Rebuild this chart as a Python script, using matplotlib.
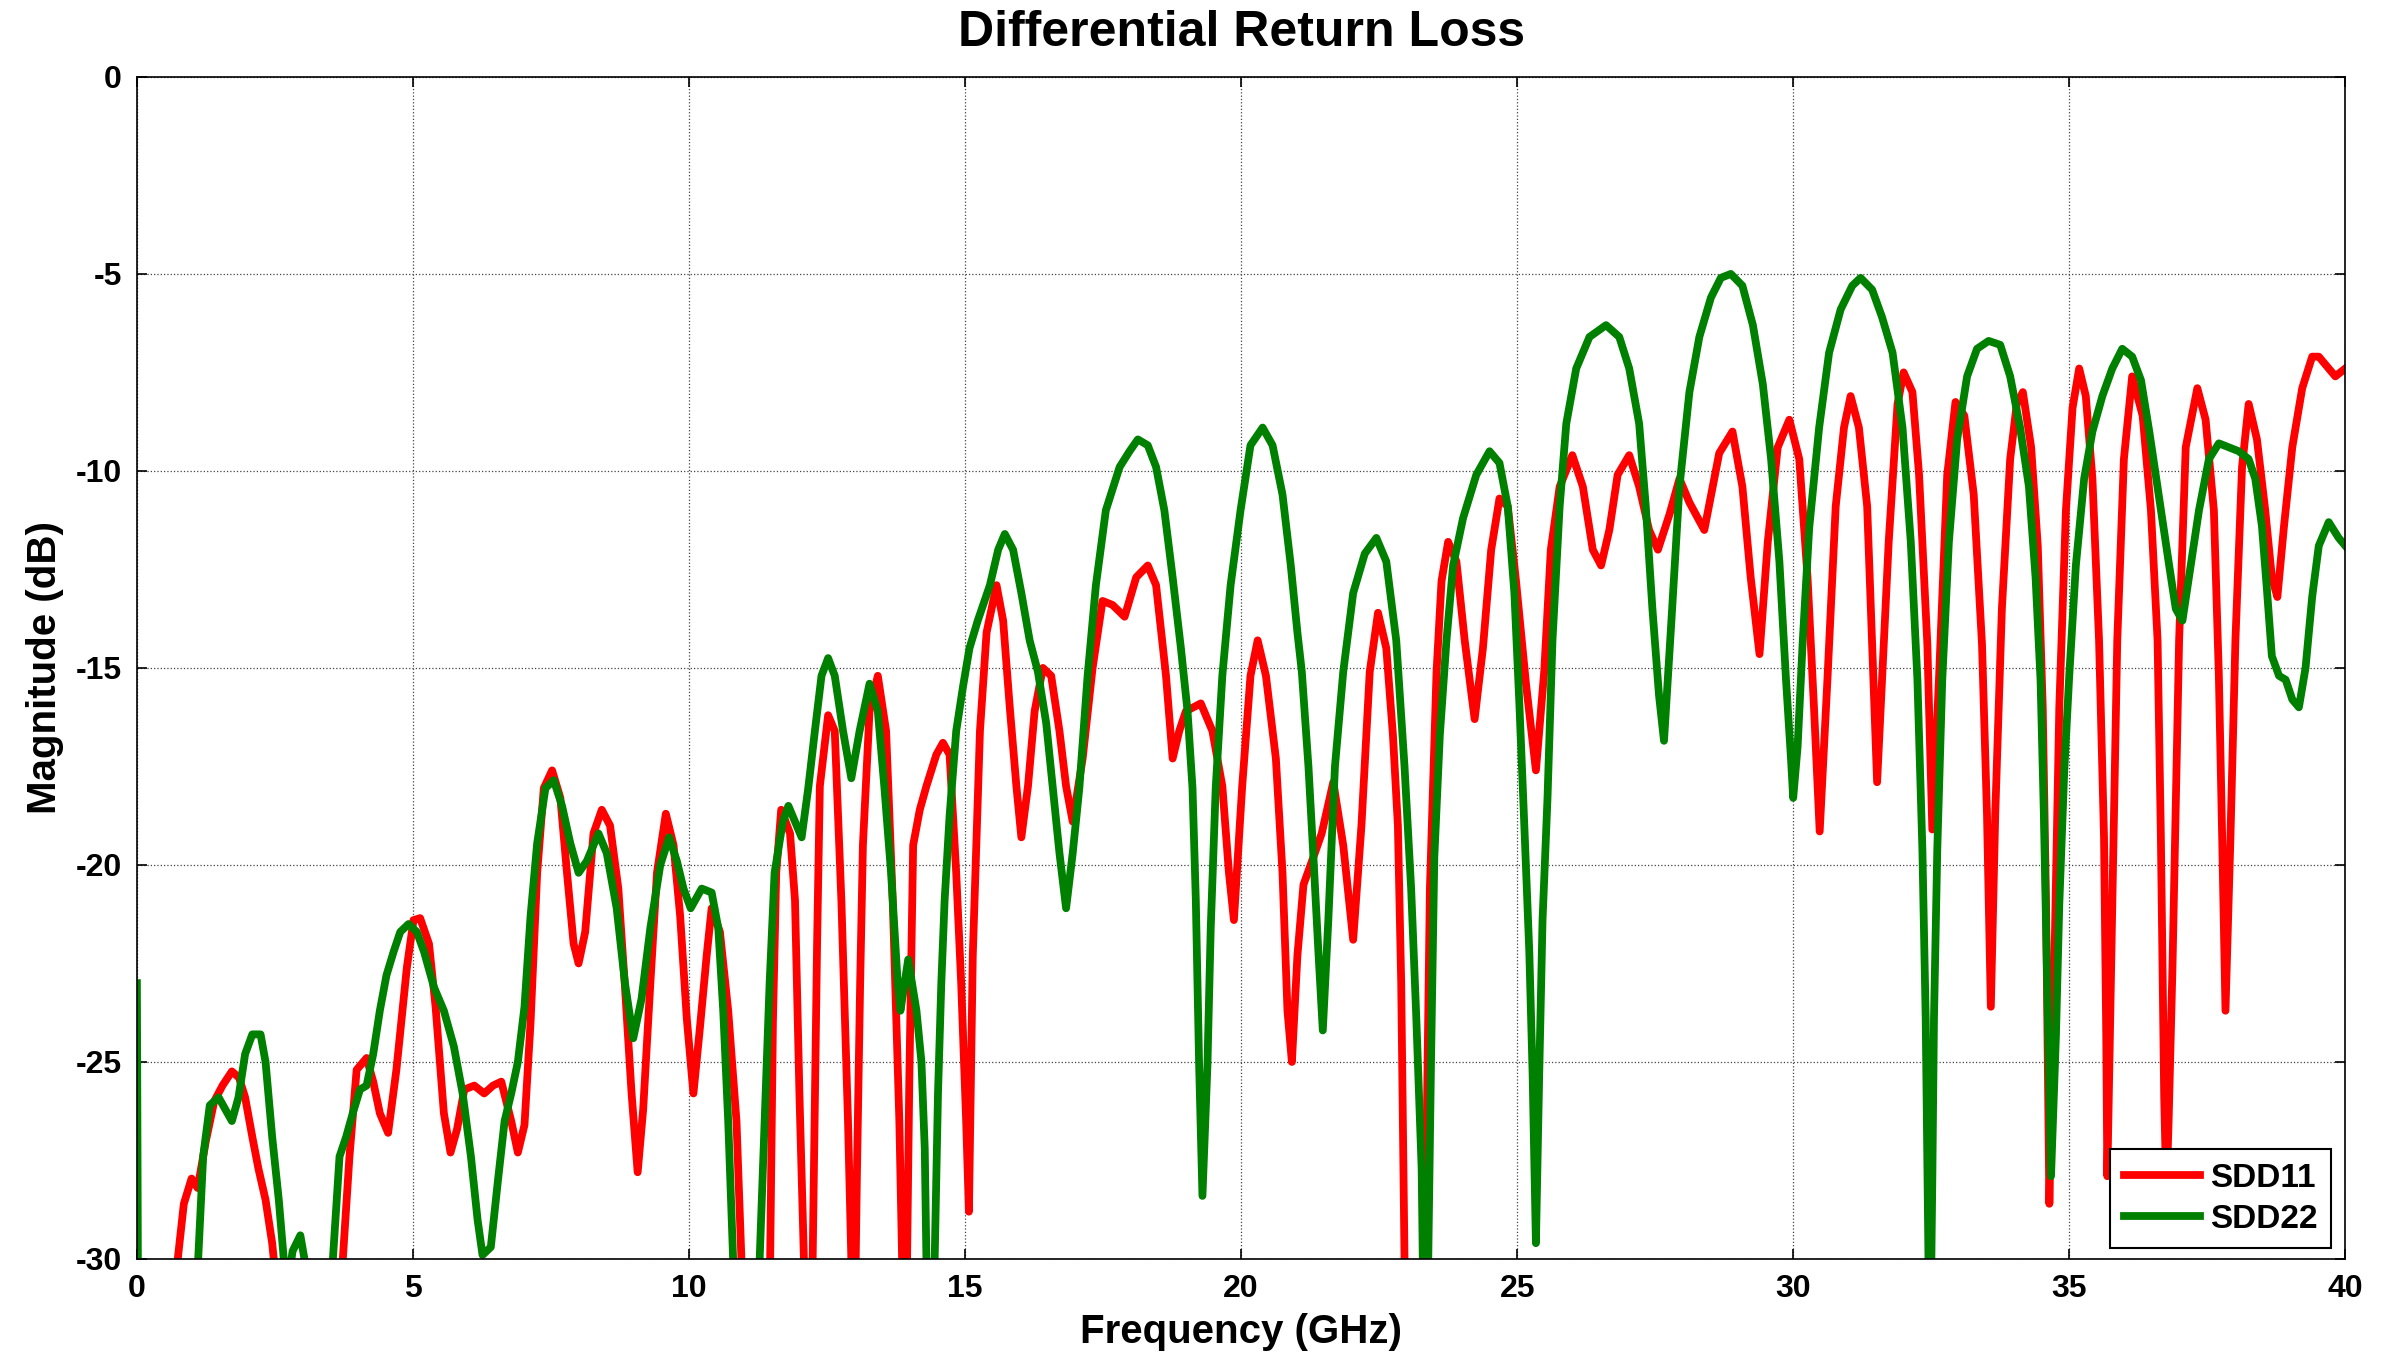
import matplotlib
matplotlib.use("Agg")
import matplotlib.pyplot as plt

plt.rcParams['font.family'] = ['Liberation Sans', 'DejaVu Sans']
plt.rcParams['font.weight'] = 'bold'
plt.rcParams['axes.unicode_minus'] = False

# SDD11 (red), frequency in GHz / magnitude in dB
sdd11_freq = [0.0, 0.7, 0.74, 0.85, 0.99, 1.1, 1.25, 1.4, 1.55, 1.72, 1.85, 1.96, 2.09, 2.2, 2.33, 2.45, 2.55,
              3.65, 3.73, 3.85, 3.98, 4.16, 4.28, 4.4, 4.55, 4.7, 4.89, 5.01, 5.13, 5.29, 5.41, 5.56, 5.68, 5.8,
              5.93, 6.11, 6.29, 6.45, 6.6, 6.78, 6.9, 7.02, 7.13, 7.25, 7.37, 7.52, 7.67, 7.79, 7.91, 8.0, 8.12,
              8.27, 8.42, 8.57, 8.72, 8.84, 8.96, 9.07, 9.17, 9.3, 9.42, 9.58, 9.72, 9.84, 9.96, 10.08, 10.2,
              10.32, 10.41, 10.56, 10.71, 10.86, 10.95, 11.0, 11.45, 11.47, 11.52, 11.58, 11.67, 11.83, 11.92,
              12.0, 12.08, 12.12, 12.22, 12.26, 12.32, 12.37, 12.52, 12.64, 12.76, 12.88, 12.94, 12.97, 13.0,
              13.04, 13.1, 13.15, 13.27, 13.42, 13.57, 13.69, 13.81, 13.86, 13.9, 13.95, 13.99, 14.06, 14.18,
              14.3, 14.48, 14.6, 14.72, 14.84, 14.93, 15.02, 15.07, 15.14, 15.27, 15.39, 15.57, 15.69, 15.81,
              15.93, 16.02, 16.14, 16.26, 16.41, 16.56, 16.71, 16.83, 16.95, 17.13, 17.31, 17.49, 17.67, 17.89,
              18.1, 18.31, 18.46, 18.64, 18.76, 18.88, 19.0, 19.27, 19.48, 19.66, 19.78, 19.87, 20.02, 20.17,
              20.3, 20.45, 20.63, 20.75, 20.84, 20.92, 21.02, 21.13, 21.31, 21.46, 21.67, 21.85, 22.03, 22.18,
              22.33, 22.48, 22.63, 22.75, 22.84, 22.9, 22.96, 23.0, 23.3, 23.35, 23.42, 23.54, 23.63, 23.75,
              23.9, 24.05, 24.23, 24.38, 24.53, 24.68, 24.83, 24.98, 25.16, 25.34, 25.49, 25.61, 25.77, 26.0,
              26.19, 26.37, 26.52, 26.67, 26.82, 27.03, 27.21, 27.39, 27.55, 27.76, 27.94, 28.12, 28.39, 28.66,
              28.9, 29.08, 29.23, 29.39, 29.54, 29.72, 29.93, 30.11, 30.26, 30.38, 30.48, 30.62, 30.77, 30.92,
              31.04, 31.19, 31.34, 31.43, 31.52, 31.61, 31.73, 31.89, 32.0, 32.16, 32.28, 32.43, 32.52, 32.64,
              32.79, 32.94, 33.1, 33.27, 33.42, 33.51, 33.58, 33.66, 33.78, 33.93, 34.05, 34.16, 34.31, 34.43,
              34.52, 34.58, 34.64, 34.73, 34.82, 34.94, 35.06, 35.18, 35.3, 35.42, 35.54, 35.63, 35.67, 35.69,
              35.78, 35.87, 35.99, 36.14, 36.33, 36.48, 36.6, 36.66, 36.72, 36.76, 36.8, 36.87, 36.99, 37.11,
              37.32, 37.47, 37.62, 37.71, 37.77, 37.83, 37.92, 38.01, 38.13, 38.25, 38.4, 38.55, 38.67, 38.77,
              38.89, 39.04, 39.22, 39.4, 39.52, 39.7, 39.82, 40.0]
sdd11_db = [-40, -32, -30, -28.6, -27.96, -28.2, -27.0, -26.0, -25.6, -25.24, -25.4, -25.9, -26.9, -27.7, -28.5,
            -29.6, -31, -31, -30, -27.4, -25.2, -24.9, -25.5, -26.3, -26.8, -25.2, -22.6, -21.4, -21.35, -22.0,
            -23.6, -26.3, -27.3, -26.7, -25.7, -25.6, -25.8, -25.6, -25.5, -26.5, -27.3, -26.6, -24.0, -20.2,
            -18.05, -17.6, -18.3, -20.2, -22.0, -22.5, -21.7, -19.2, -18.6, -19.0, -20.6, -23.1, -25.8, -27.8,
            -26.2, -23.0, -20.2, -18.7, -19.5, -21.3, -23.9, -25.8, -24.1, -22.3, -21.1, -21.7, -23.7, -26.5,
            -30, -32, -32, -30, -24, -20.2, -18.6, -19.2, -20.9, -25.8, -30, -32, -32, -28, -22, -18, -16.2,
            -16.6, -20.9, -26.5, -30, -32, -32, -28, -23, -19.5, -16.1, -15.2, -16.6, -20.9, -26.5, -30, -32,
            -30, -25.5, -19.5, -18.6, -18.0, -17.2, -16.9, -17.2, -20.2, -23.0, -26.5, -28.8, -22.3, -16.6,
            -14.1, -12.9, -13.8, -16.0, -18.0, -19.3, -18.0, -16.1, -15.0, -15.2, -16.6, -18.0, -18.9, -17.3,
            -15.0, -13.3, -13.4, -13.7, -12.7, -12.4, -12.9, -15.2, -17.3, -16.6, -16.1, -15.9, -16.6, -18.0,
            -20.2, -21.4, -18.0, -15.2, -14.3, -15.2, -17.3, -20.2, -23.7, -25.0, -22.3, -20.5, -19.8, -19.2,
            -17.9, -19.5, -21.9, -19.0, -15.1, -13.6, -14.5, -16.7, -19.0, -23.0, -30, -32, -32, -28, -20.6,
            -15.1, -12.8, -11.8, -12.3, -14.3, -16.3, -14.5, -12.0, -10.7, -10.9, -12.8, -15.4, -17.6, -15.1,
            -12.0, -10.4, -9.6, -10.4, -12.0, -12.4, -11.5, -10.1, -9.6, -10.4, -11.5, -12.0, -11.1, -10.2,
            -10.8, -11.5, -9.55, -9.0, -10.4, -12.7, -14.65, -11.8, -9.4, -8.7, -9.7, -12.7, -16.1, -19.15,
            -15.3, -10.9, -8.9, -8.1, -8.9, -10.9, -14.4, -17.9, -15.3, -11.8, -8.3, -7.5, -8.0, -10.1, -14.4,
            -19.1, -15.3, -10.1, -8.25, -8.6, -10.6, -14.4, -18.7, -23.6, -18.7, -13.5, -9.7, -8.3, -8.0, -9.4,
            -11.9, -16.0, -21.0, -28.6, -22.6, -16.0, -11.0, -8.4, -7.4, -8.1, -10.2, -14.3, -19.3, -24.3,
            -27.9, -21.0, -14.3, -9.7, -7.6, -8.6, -11.0, -14.3, -19.3, -25.9, -28.4, -26.5, -22.6, -14.3, -9.4,
            -7.9, -8.7, -11.0, -15.2, -19.3, -23.7, -19.3, -14.3, -9.9, -8.3, -9.2, -11.0, -12.7, -13.2, -11.4,
            -9.4, -7.9, -7.1, -7.1, -7.4, -7.6, -7.4]

# SDD22 (green)
sdd22_freq = [0.0, 0.03, 1.05, 1.11, 1.2, 1.32, 1.48, 1.6, 1.72, 1.84, 1.96, 2.09, 2.24, 2.33, 2.45, 2.57, 2.66,
              2.72, 2.82, 2.96, 3.06, 3.12, 3.5, 3.55, 3.67, 3.79, 3.91, 4.04, 4.16, 4.28, 4.4, 4.52, 4.65,
              4.77, 4.92, 5.07, 5.2, 5.38, 5.56, 5.74, 5.9, 6.05, 6.17, 6.26, 6.41, 6.54, 6.66, 6.78, 6.9, 7.02,
              7.13, 7.25, 7.4, 7.55, 7.7, 7.85, 8.0, 8.15, 8.36, 8.51, 8.69, 8.84, 8.99, 9.14, 9.3, 9.48, 9.64,
              9.78, 9.9, 10.03, 10.23, 10.41, 10.53, 10.62, 10.71, 10.8, 10.85, 11.22, 11.28, 11.37, 11.46,
              11.55, 11.7, 11.8, 11.92, 12.04, 12.16, 12.28, 12.4, 12.52, 12.64, 12.79, 12.94, 13.09, 13.27,
              13.42, 13.54, 13.66, 13.78, 13.83, 13.97, 14.12, 14.21, 14.27, 14.3, 14.33, 14.42, 14.45, 14.51,
              14.57, 14.63, 14.72, 14.84, 14.96, 15.08, 15.23, 15.45, 15.6, 15.72, 15.87, 16.02, 16.17, 16.32,
              16.47, 16.59, 16.71, 16.83, 16.95, 17.07, 17.22, 17.37, 17.55, 17.8, 17.98, 18.13, 18.31, 18.46,
              18.61, 18.76, 18.91, 19.03, 19.12, 19.18, 19.24, 19.3, 19.39, 19.45, 19.54, 19.66, 19.81, 19.99,
              20.17, 20.39, 20.57, 20.75, 20.9, 21.02, 21.1, 21.22, 21.31, 21.4, 21.48, 21.58, 21.7, 21.85,
              22.03, 22.24, 22.45, 22.63, 22.81, 22.96, 23.08, 23.17, 23.27, 23.3, 23.38, 23.44, 23.5, 23.6,
              23.72, 23.84, 24.02, 24.26, 24.5, 24.68, 24.83, 24.95, 25.04, 25.13, 25.22, 25.28, 25.34, 25.4,
              25.46, 25.55, 25.64, 25.77, 25.89, 26.07, 26.31, 26.61, 26.85, 27.03, 27.21, 27.33, 27.45, 27.57,
              27.66, 27.79, 27.94, 28.12, 28.3, 28.51, 28.69, 28.87, 29.08, 29.27, 29.45, 29.6, 29.75, 29.87,
              29.96, 30.0, 30.08, 30.17, 30.29, 30.47, 30.65, 30.86, 31.07, 31.22, 31.43, 31.61, 31.8, 31.98,
              32.13, 32.25, 32.34, 32.4, 32.45, 32.49, 32.52, 32.55, 32.61, 32.7, 32.82, 32.97, 33.15, 33.33,
              33.54, 33.75, 33.93, 34.11, 34.27, 34.39, 34.48, 34.54, 34.6, 34.67, 34.76, 34.82, 34.91, 35.0,
              35.12, 35.27, 35.42, 35.6, 35.78, 35.96, 36.14, 36.3, 36.45, 36.63, 36.81, 36.93, 37.05, 37.2,
              37.35, 37.53, 37.71, 37.89, 38.07, 38.25, 38.37, 38.49, 38.58, 38.67, 38.8, 38.92, 39.04, 39.16,
              39.28, 39.4, 39.52, 39.7, 39.88, 40.0]
sdd22_db = [-23.0, -35, -35, -30, -27.4, -26.1, -25.9, -26.2, -26.5, -25.9, -24.8, -24.3, -24.3, -25.0, -26.9,
            -28.5, -30, -30.8, -29.8, -29.4, -30.2, -32, -32, -30, -27.4, -26.9, -26.3, -25.7, -25.6, -24.8,
            -23.7, -22.8, -22.2, -21.7, -21.5, -21.7, -22.2, -23.1, -23.7, -24.6, -25.8, -27.4, -29.0, -29.9,
            -29.7, -28.0, -26.5, -25.8, -25.0, -23.6, -21.3, -19.45, -18.05, -17.85, -18.5, -19.45, -20.2,
            -19.9, -19.2, -19.7, -21.1, -23.0, -24.4, -23.4, -21.6, -20.0, -19.3, -19.9, -20.6, -21.1, -20.6,
            -20.7, -21.6, -23.7, -26.5, -30, -32, -32, -30, -26.5, -23.0, -20.2, -18.9, -18.5, -18.9, -19.3,
            -18.05, -16.6, -15.2, -14.75, -15.2, -16.6, -17.8, -16.6, -15.4, -16.1, -18.05, -20.2, -23.0,
            -23.7, -22.4, -23.7, -25.0, -27.2, -30, -32, -32, -30, -25.8, -23.0, -20.9, -18.75, -16.6, -15.5,
            -14.5, -13.8, -12.9, -12.0, -11.6, -12.0, -13.1, -14.3, -15.1, -16.4, -18.05, -19.7, -21.1, -19.7,
            -18.05, -15.2, -12.9, -11.0, -9.9, -9.5, -9.2, -9.35, -9.9, -11.0, -12.7, -14.5, -16.1, -18.05,
            -20.9, -25.1, -28.4, -25.1, -21.6, -18.05, -15.2, -12.9, -11.0, -9.35, -8.9, -9.35, -10.6, -12.4,
            -14.1, -15.1, -17.5, -19.8, -22.2, -24.2, -21.4, -17.5, -15.1, -13.1, -12.1, -11.7, -12.3, -14.3,
            -17.5, -20.6, -23.75, -27.7, -31, -31, -25, -19.8, -16.7, -14.3, -12.4, -11.2, -10.1, -9.5, -9.8,
            -10.9, -13.1, -15.9, -19.0, -22.2, -25.3, -29.6, -25.3, -21.4, -18.3, -14.3, -10.9, -8.8, -7.4,
            -6.6, -6.3, -6.6, -7.4, -8.8, -10.9, -13.5, -15.7, -16.85, -13.9, -10.4, -8.0, -6.6, -5.6, -5.1,
            -5.0, -5.3, -6.3, -7.8, -9.7, -12.3, -15.3, -17.3, -18.3, -17.0, -14.4, -11.45, -8.9, -7.0, -5.9,
            -5.3, -5.1, -5.4, -6.1, -7.0, -8.9, -11.8, -15.3, -19.6, -23.9, -30, -31.5, -28, -23.9, -19.6,
            -15.3, -11.8, -9.2, -7.6, -6.9, -6.7, -6.8, -7.6, -8.9, -10.4, -12.7, -15.3, -18.7, -23.0, -27.9,
            -24.3, -21.0, -17.6, -15.2, -12.4, -10.2, -9.0, -8.1, -7.4, -6.9, -7.1, -7.7, -9.0, -10.7, -12.4,
            -13.5, -13.8, -12.4, -11.0, -9.7, -9.3, -9.4, -9.5, -9.7, -10.2, -11.4, -13.0, -14.7, -15.2,
            -15.3, -15.8, -16.0, -15.0, -13.2, -11.9, -11.3, -11.7, -11.9]

x_ticks = [0, 5, 10, 15, 20, 25, 30, 35, 40]
y_ticks = [0, -5, -10, -15, -20, -25, -30]


def main():
    fig = plt.figure(figsize=(23.81, 13.54), dpi=100)
    ax = fig.add_axes([0.0575, 0.0702, 0.9275, 0.873])

    ax.plot(sdd11_freq, sdd11_db, color='#ff0000', lw=5.6, label='SDD11')
    ax.plot(sdd22_freq, sdd22_db, color='#008000', lw=5.6, label='SDD22')

    ax.set_xlim(0, 40)
    ax.set_ylim(-30, 0)
    ax.set_xticks(x_ticks)
    ax.set_yticks(y_ticks)
    ax.grid(True, linestyle=':', color='#444444', lw=0.9)
    ax.tick_params(direction='in', length=7, width=1.2, top=True, right=True,
                   labelsize=23, pad=11)
    for s in ax.spines.values():
        s.set_linewidth(1.2)

    ax.set_title("Differential Return Loss", fontsize=36, fontweight='bold', pad=22)
    ax.set_xlabel("Frequency (GHz)", fontsize=29, fontweight='bold', labelpad=6)
    ax.set_ylabel("Magnitude (dB)", fontsize=29, fontweight='bold', labelpad=8)

    leg = ax.legend(loc='lower right', bbox_to_anchor=(0.9937, 0.0093), borderaxespad=0,
                    fontsize=24, fancybox=False, framealpha=1, edgecolor='black',
                    handlelength=2.3, handletextpad=0.3, labelspacing=0.3, borderpad=0.4)
    leg.get_frame().set_linewidth(1.5)

    fig.savefig("out.png", dpi=100)


if __name__ == '__main__':
    main()
